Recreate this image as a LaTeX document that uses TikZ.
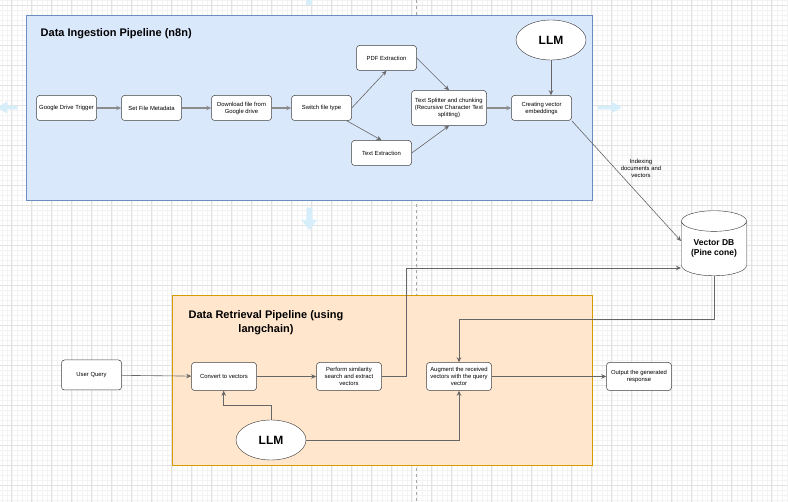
\documentclass[tikz,border=0pt]{standalone}
\usepackage{fontspec}
\setmainfont{Liberation Sans}
\usetikzlibrary{shapes.geometric,arrows.meta,positioning}
\definecolor{ingestfill}{HTML}{DAE8FC}
\definecolor{ingestline}{HTML}{6C8EBF}
\definecolor{retrfill}{HTML}{FFE6CC}
\definecolor{retrline}{HTML}{D79B00}
\definecolor{hintblue}{HTML}{D6EEFA}
\definecolor{gridmajor}{HTML}{E2E2E2}
\definecolor{gridminor}{HTML}{F3F3F3}
\tikzset{
  stage/.style={draw=black!75, fill=white, rounded corners=3pt, align=center,
    font=\fontsize{5.9}{7}\selectfont, inner sep=1pt, line width=0.5pt},
  llm/.style={ellipse, draw=black!80, fill=white, minimum width=70pt,
    minimum height=40pt, inner sep=0pt, font=\fontsize{12}{14}\selectfont\bfseries},
  flow/.style={draw=black!60, line width=0.6pt, -{Stealth[length=5pt,width=4.5pt]}},
  mainflow/.style={flow, draw=black!45, line width=1.2pt},
  hint/.style={fill=hintblue, draw=none},
  pipetitle/.style={inner sep=0pt, font=\fontsize{11}{13.3}\selectfont\bfseries},
}
\begin{document}
\begin{tikzpicture}[x=1pt,y=-1pt]
\useasboundingbox (0,0) rectangle (788,502);
\fill[white] (0,0) rectangle (788,502);
% canvas grid
\foreach \i in {0,...,157} \draw[gridminor,line width=0.4pt] ({1.7+5*\i},0) -- ({1.7+5*\i},502);
\foreach \i in {0,...,100} \draw[gridminor,line width=0.4pt] (0,{0.7+5*\i}) -- (788,{0.7+5*\i});
\foreach \i in {0,...,38} \draw[gridmajor,line width=0.6pt] ({11.7+20*\i},0) -- ({11.7+20*\i},502);
\foreach \i in {0,...,24} \draw[gridmajor,line width=0.6pt] (0,{5.7+20*\i}) -- (788,{5.7+20*\i});
\draw[black!35,dash pattern=on 3pt off 3pt] (416.5,0) -- (416.5,502);
% hover hints
\fill[hint] (306,0) rectangle (312,5);
\fill[hint] (598,105.7) -- (611.7,105.7) -- (611.7,101.7) -- (621.7,107.5) -- (611.7,113.3) -- (611.7,109.3) -- (598,109.3) -- cycle;
\fill[hint] (17,105.7) -- (7,105.7) -- (7,101.7) -- (-3,107.5) -- (7,113.3) -- (7,109.3) -- (17,109.3) -- cycle;
\fill[hint] (306.3,207.7) -- (312.3,207.7) -- (312.3,220) -- (317,220) -- (309.3,230) -- (301.6,220) -- (306.3,220) -- cycle;

% ingestion pipeline
\draw[fill=ingestfill,draw=ingestline,line width=0.7pt] (26,15) rectangle (592,200);
\node[pipetitle,anchor=west] (ingtitle) at (40.5,33.5) {Data Ingestion Pipeline (n8n)};
\node[stage,minimum width=60pt,minimum height=25pt] (trigger) at (66.5,108) {Google Drive Trigger};
\node[stage,minimum width=60pt,minimum height=25pt] (meta) at (151.5,108) {Set File Metadata};
\node[stage,minimum width=60pt,minimum height=25pt] (download) at (241.5,108) {Download file from\\Google drive};
\node[stage,minimum width=60pt,minimum height=25pt] (switch) at (321.5,108) {Switch file type};
\node[stage,minimum width=60pt,minimum height=25pt] (pdf) at (386.5,58) {PDF Extraction};
\node[stage,minimum width=60pt,minimum height=25pt] (txt) at (381.5,153) {Text Extraction};
\node[stage,minimum width=75pt,minimum height=35pt] (split) at (449,108) {Text Splitter and chunking\\(Recursive Character Text\\splitting)};
\node[stage,minimum width=60pt,minimum height=25pt] (embed) at (541.5,108) {Creating vector\\embeddings};
\node[llm] (llmtop) at (551,40) {LLM};

\draw[mainflow] (trigger) -- (meta);
\draw[mainflow] (meta) -- (download);
\draw[mainflow] (download) -- (switch);
\draw[flow] (switch.east) -- (pdf.south);
\draw[flow] (switch.south east) ++(-5,0) -- (txt.north);
\draw[flow] (pdf.east) -- (split.north);
\draw[flow] (txt.east) -- (split.south);
\draw[mainflow] (split) -- (embed);
\draw[flow] (llmtop.south) -- (llmtop.south |- embed.north);

% vector store
\node[cylinder,shape border rotate=90,draw=black!80,fill=white,aspect=0.45,
  minimum width=65pt,minimum height=65pt,align=center,inner sep=0pt,
  font=\fontsize{8.5}{10}\selectfont\bfseries] (vdb) at (714,248.5) {Vector DB\\(Pine cone)};
\coordinate (vdbin) at (681,241);
\coordinate (vdbq) at (681,268);
\draw[flow] (embed.south east) -- (vdbin);
\node[align=center,inner sep=0pt,font=\fontsize{5.9}{7}\selectfont] (idxlabel) at (641,168) {Indexing\\documents and\\vectors};

% retrieval pipeline
\draw[fill=retrfill,draw=retrline,line width=0.7pt] (172,295) rectangle (592,465);
\node[pipetitle,align=center] (rettitle) at (266,322.7) {Data Retrieval Pipeline (using\\langchain)};
\node[stage,minimum width=60pt,minimum height=30pt] (query) at (91.5,375) {User Query};
\node[stage,minimum width=65pt,minimum height=28pt] (convert) at (224,376.5) {Convert to vectors};
\node[stage,minimum width=65pt,minimum height=28pt] (search) at (349,376.5) {Perform similarity\\search and extract\\vectors};
\node[stage,minimum width=65pt,minimum height=28pt] (augment) at (459,376.5) {Augment the received\\vectors with the query\\vector};
\node[stage,minimum width=65pt,minimum height=28pt] (output) at (639,376.5) {Output the generated\\response};
\node[llm] (llmbot) at (271,440) {LLM};

\draw[flow] (query) -- (convert);
\draw[flow] (convert) -- (search);
\draw[flow] (search.east) -- (406.7,376.5) |- (vdbq);
\draw[flow] (vdb.south) -- (714,319.3) -| (augment.north);
\draw[flow] (llmbot.east) -| (augment.south);
\draw[flow] (llmbot.north) |- (223.7,405.7) -- (convert.south -| 223.7,0);
\draw[flow] (augment) -- (output);
\end{tikzpicture}
\end{document}
